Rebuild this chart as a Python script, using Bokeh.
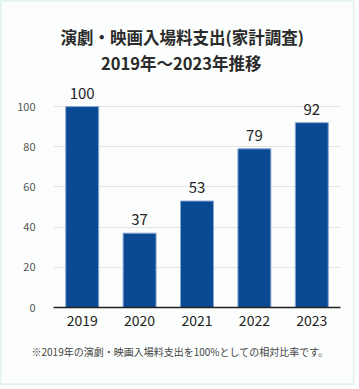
from bokeh.plotting import figure
from bokeh.models import ColumnDataSource, Range1d, FixedTicker, Title
from bokeh.core.properties import value
from bokeh.embed import file_html
from bokeh.resources import INLINE

years = ["2019", "2020", "2021", "2022", "2023"]
ratios = [100, 37, 53, 79, 92]
y_ticks = [0, 20, 40, 60, 80, 100]

title_line1 = "演劇・映画入場料支出(家計調査)"
title_line2 = "2019年〜2023年推移"
note_text = "※2019年の演劇・映画入場料支出を100%としての相対比率です。"

FONT = "Noto Sans CJK JP"
BG = "#fbfefc"

src = ColumnDataSource(dict(x=years, top=ratios, label=[str(v) for v in ratios]))

p = figure(width=355, height=385, x_range=years, y_range=Range1d(0, 112),
           output_backend="svg", toolbar_location=None,
           min_border_left=51, min_border_right=17, min_border_bottom=80, min_border_top=80)

p.background_fill_color = BG
p.border_fill_color = BG
p.outline_line_color = None
p.styles = {"border": "2px solid #e6f5ee"}

p.title.text = title_line1
p.title.text_font = FONT
p.title.text_font_size = "16.5px"
p.title.text_font_style = "bold"
p.title.text_color = "#2a2a2a"
p.title.align = "left"
p.title.offset = 7
p.title.standoff = -17

t2 = Title(text=title_line2, align="left", text_font=FONT, text_font_size="16.5px",
           text_font_style="bold", text_color="#2a2a2a", standoff=16, offset=47.5)
p.add_layout(t2, "above")

p.vbar(x="x", top="top", width=0.574, source=src,
       fill_color="#0a4a94", line_color="#8aa6d2", line_width=1)

p.text(x="x", y="top", text="label", source=src, text_align="center",
       text_baseline="bottom", y_offset=-8, text_font=value(FONT),
       text_font_size="15px", text_color="#222222")

p.yaxis.ticker = FixedTicker(ticks=y_ticks)
p.yaxis.axis_line_color = None
p.yaxis.major_tick_line_color = None
p.yaxis.minor_tick_line_color = None
p.yaxis.major_label_text_font = FONT
p.yaxis.major_label_text_font_size = "11px"
p.yaxis.major_label_text_color = "#555555"
p.yaxis.major_label_standoff = 12

p.xaxis.axis_line_color = "#222222"
p.xaxis.axis_line_width = 1.5
p.xaxis.major_tick_line_color = None
p.xaxis.minor_tick_line_color = None
p.xaxis.major_label_text_font = FONT
p.xaxis.major_label_text_font_size = "14px"
p.xaxis.major_label_text_color = "#222222"
p.xaxis.major_label_standoff = 1

p.xgrid.grid_line_color = None
p.ygrid.ticker = FixedTicker(ticks=y_ticks)
p.ygrid.grid_line_color = "#e3e3e3"
p.ygrid.grid_line_width = 1

note = Title(text=note_text, align="left", text_font=FONT, text_font_size="10px",
             text_font_style="normal", text_color="#444444", standoff=27, offset=-22)
p.add_layout(note, "below")

open("out.html", "w").write(file_html(p, INLINE))
